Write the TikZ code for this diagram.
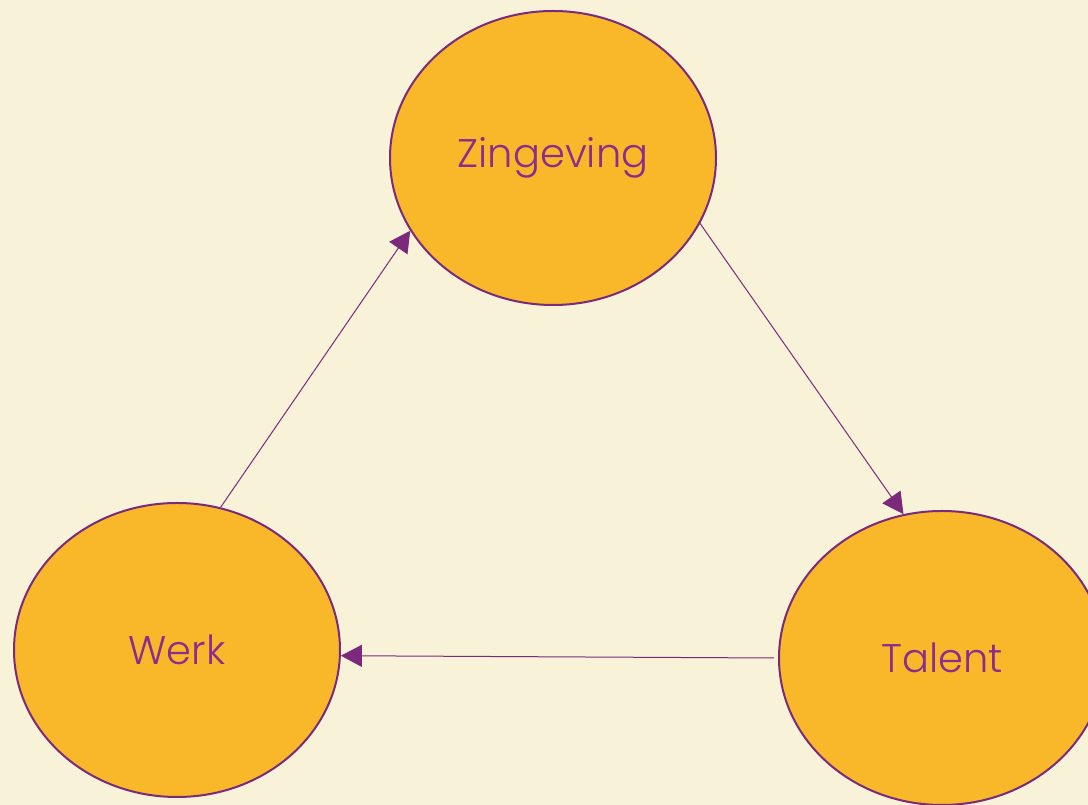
\documentclass[tikz,border=0pt]{standalone}
\usepackage{fontspec}
\setmainfont{Poppins Light}
\usetikzlibrary{shapes.geometric,arrows.meta}
\definecolor{bg}{HTML}{F8F2D8}
\definecolor{orb}{HTML}{F8B82A}
\definecolor{purp}{HTML}{7B2A7B}
\definecolor{txt}{HTML}{8C2C8C}
\begin{document}
\begin{tikzpicture}[x=1pt,y=1pt,
  orbnode/.style={ellipse, draw=purp, fill=orb, line width=2pt, inner sep=0pt,
    minimum width=326pt, minimum height=294pt, text=txt, font=\fontsize{40}{42}\selectfont},
  link/.style={draw=purp, line width=1pt, -{Triangle[length=21pt,width=22pt]}}]
\useasboundingbox (0,0) rectangle (1088,805);
\clip (0,0) rectangle (1088,805);
\fill[bg] (0,0) rectangle (1088,805);
\node[orbnode] (zing) at (553,647) {\raisebox{-2pt}{Zingeving}};
\node[orbnode] (werk) at (177,155) {\raisebox{-2pt}{Werk}};
\node[orbnode] (tal) at (942,147) {\raisebox{-2pt}{Talent}};
\draw[link] (werk.73) -- (zing.207);
\draw[link] (zing.-24) -- (tal.105);
\draw[link] ([xshift=-4pt]tal.180) -- (werk.-2);
\end{tikzpicture}
\end{document}
